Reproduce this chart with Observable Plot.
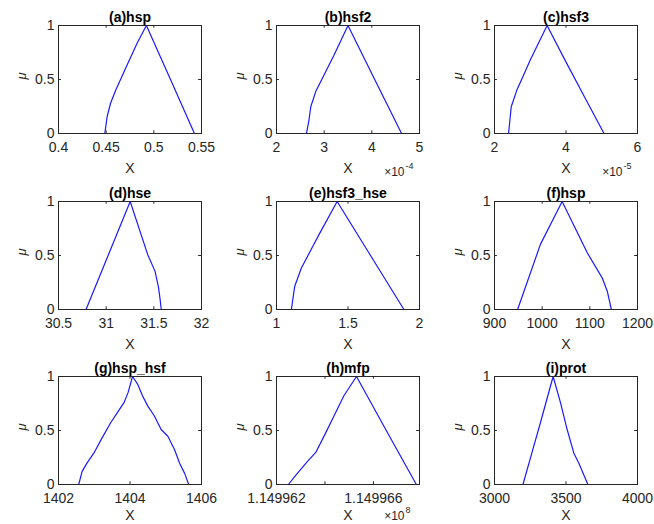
<!DOCTYPE html>
<html><head><meta charset="utf-8">
<script src="https://cdn.jsdelivr.net/npm/d3@7"></script>
<script src="https://cdn.jsdelivr.net/npm/@observablehq/plot@0.6"></script>
<style>
html,body{margin:0;padding:0;background:#fff;overflow:hidden}
#grid{position:relative;width:654px;height:524px}
#grid svg{position:absolute;overflow:visible}
</style></head><body><div id="grid"></div>
<script>
// ---- data ----
const titles = ["(a)hsp","(b)hsf2","(c)hsf3","(d)hse","(e)hsf3_hse","(f)hsp","(g)hsp_hsf","(h)mfp","(i)prot"];
const muTicks = [0, 0.5, 1];
const muTickLabels = ["0", "0.5", "1"];

const aX  = [0.4486, 0.4510, 0.4546, 0.4600, 0.4722, 0.4827, 0.4922, 0.5175, 0.5426];
const aMu = [0, 0.155, 0.28, 0.40, 0.64, 0.84, 1, 0.5, 0];
const aDomain = [0.4, 0.55];
const aTicks = [0.4, 0.45, 0.5, 0.55];
const aTickLabels = ["0.4", "0.45", "0.5", "0.55"];

const bX  = [2.628, 2.68, 2.719, 2.823, 2.95, 3.2, 3.5, 4.06, 4.624]; // ×10^-4
const bMu = [0, 0.12, 0.248, 0.388, 0.5, 0.72, 1, 0.5, 0];
const bDomain = [2, 5];
const bTicks = [2, 3, 4, 5];
const bTickLabels = ["2", "3", "4", "5"];

const cX  = [2.393, 2.43, 2.468, 2.628, 2.76, 3.0, 3.471, 3.939, 4.5, 5.063]; // ×10^-5
const cMu = [0, 0.12, 0.248, 0.404, 0.5, 0.68, 1, 0.70, 0.35, 0];
const cDomain = [2, 6];
const cTicks = [2, 4, 6];
const cTickLabels = ["2", "4", "6"];

const dX  = [30.789, 31.0, 31.252, 31.435, 31.513, 31.548, 31.565, 31.578];
const dMu = [0, 0.456, 1, 0.51, 0.353, 0.21, 0.1, 0];
const dDomain = [30.5, 32];
const dTicks = [30.5, 31, 31.5, 32];
const dTickLabels = ["30.5", "31", "31.5", "32"];

const eX  = [1.104, 1.127, 1.174, 1.255, 1.30, 1.424, 1.6575, 1.891];
const eMu = [0, 0.2125, 0.384, 0.5875, 0.70, 1, 0.5, 0];
const eDomain = [1, 2];
const eTicks = [1, 1.5, 2];
const eTickLabels = ["1", "1.5", "2"];

const fX  = [948.5, 996.3, 1041.9, 1094.6, 1126.2, 1136.8, 1145.2];
const fMu = [0, 0.603, 1, 0.525, 0.29, 0.166, 0];
const fDomain = [900, 1200];
const fTicks = [900, 1000, 1100, 1200];
const fTickLabels = ["900", "1000", "1100", "1200"];

const gX  = [1402.565, 1402.659, 1402.80, 1402.988, 1403.20, 1403.459, 1403.647, 1403.835, 1403.948, 1404.071,
             1404.212, 1404.353, 1404.494, 1404.682, 1404.871, 1405.059, 1405.247, 1405.388, 1405.529, 1405.642];
const gMu = [0, 0.119, 0.2, 0.29, 0.42, 0.572, 0.666, 0.76, 0.853, 1,
             0.93, 0.82, 0.728, 0.634, 0.509, 0.447, 0.322, 0.197, 0.103, 0];
const gDomain = [1402, 1406];
const gTicks = [1402, 1404, 1406];
const gTickLabels = ["1402", "1404", "1406"];

const hX  = [1.14996249, 1.1499628, 1.14996327, 1.14996362, 1.14996403, 1.14996437, 1.14996478, 1.1499653, 1.14996653, 1.14996777]; // ×10^8
const hMu = [0, 0.0875, 0.2125, 0.297, 0.478, 0.634, 0.822, 1, 0.5, 0];
const hDomain = [1.149962, 1.1499679];
const hTicks = [1.149962, 1.149964, 1.149966];
const hTickLabels = ["1.149962", "", "1.149966"];

const iX  = [3199, 3260, 3321, 3410, 3461, 3508, 3555, 3590, 3653];
const iMu = [0, 0.286, 0.572, 1, 0.76, 0.509, 0.29, 0.197, 0];
const iDomain = [3000, 4000];
const iTicks = [3000, 3500, 4000];
const iTickLabels = ["3000", "3500", "4000"];

const exponents = ["", "-4", "-5", "", "", "", "", "8", ""];

// ---- build ----
const panels = [
  [aX, aMu, aDomain, aTicks, aTickLabels],
  [bX, bMu, bDomain, bTicks, bTickLabels],
  [cX, cMu, cDomain, cTicks, cTickLabels],
  [dX, dMu, dDomain, dTicks, dTickLabels],
  [eX, eMu, eDomain, eTicks, eTickLabels],
  [fX, fMu, fDomain, fTicks, fTickLabels],
  [gX, gMu, gDomain, gTicks, gTickLabels],
  [hX, hMu, hDomain, hTicks, hTickLabels],
  [iX, iMu, iDomain, iTicks, iTickLabels]
].map(([x, mu, domain, ticks, labels], k) => ({x, mu, domain, ticks, labels, title: titles[k], exp: exponents[k]}));

const FONT = '"Liberation Sans", Arial, Helvetica, sans-serif';
const INK = "#262626";
const grid = document.getElementById("grid");
const rowTop = [0, 176, 351];
const colLeft = [0, 218, 436];

panels.forEach((p, i) => {
  const r = Math.floor(i / 3), c = i % 3;
  const data = p.x.map((x, k) => ({x, mu: p.mu[k]}));
  const [x0, x1] = p.domain;
  const tx = (x1 - x0) * 0.02;
  const xLab = new Map(p.ticks.map((t, k) => [t, p.labels[k]]));
  const yLab = new Map(muTicks.map((t, k) => [t, muTickLabels[k]]));
  const xLabelDy = r === 2 ? 31 : 35;
  const marks = [
    Plot.ruleX(p.ticks, {x: d => d, y1: 0, y2: 0.025, stroke: INK}),
    Plot.ruleX(p.ticks, {x: d => d, y1: 1, y2: 0.975, stroke: INK}),
    Plot.ruleY(muTicks, {y: d => d, x1: x0, x2: x0 + tx, stroke: INK}),
    Plot.ruleY(muTicks, {y: d => d, x1: x1, x2: x1 - tx, stroke: INK}),
    Plot.line(data, {x: "x", y: "mu", stroke: "#1a1aff", strokeWidth: 1.2}),
    Plot.frame({stroke: INK, strokeWidth: 1}),
    Plot.axisX(p.ticks, {tickSize: 0, tickPadding: 9, fontSize: 14, tickFormat: d => xLab.get(d) ?? "", label: null}),
    Plot.axisY(muTicks, {tickSize: 0, tickPadding: 4, fontSize: 14, tickFormat: d => yLab.get(d) ?? "", label: null}),
    Plot.text([p.title], {text: d => d, frameAnchor: "top", lineAnchor: "middle", dy: -8, fontWeight: "bold", fontSize: 14, fill: "#000"}),
    Plot.text(["X"], {text: d => d, frameAnchor: "bottom", lineAnchor: "middle", dy: xLabelDy, fontSize: 14, fill: INK}),
    Plot.text(["μ"], {text: d => d, frameAnchor: "left", lineAnchor: "middle", dx: -37, rotate: -90, fontStyle: "italic", fontSize: 13, fill: INK})
  ];
  if (p.exp) {
    const base = r === 2 ? 32 : 39;
    marks.push(
      Plot.text(["×10"], {text: d => d, frameAnchor: "bottom-right", lineAnchor: "middle", textAnchor: "end",
        dx: -15, dy: base, fontSize: 12, fill: INK}),
      Plot.text([p.exp], {text: d => d, frameAnchor: "bottom-right", lineAnchor: "middle", textAnchor: "start",
        dx: -14, dy: base - 6, fontSize: 9, fill: INK})
    );
  }
  const svg = Plot.plot({
    width: 218, height: 173,
    marginLeft: 58, marginRight: 17, marginTop: 25, marginBottom: 40,
    x: {domain: p.domain},
    y: {domain: [0, 1]},
    style: {fontFamily: FONT, color: INK, background: "transparent", overflow: "visible"},
    marks
  });
  svg.style.left = colLeft[c] + "px";
  svg.style.top = rowTop[r] + "px";
  grid.appendChild(svg);
});
</script>
</body></html>
